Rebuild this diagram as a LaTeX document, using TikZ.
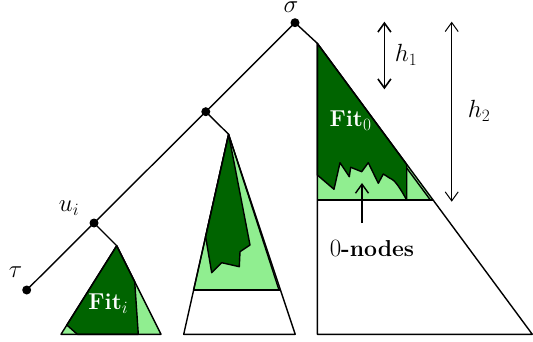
\documentclass[tikz,border=0pt]{standalone}
\usetikzlibrary{arrows.meta}
\definecolor{dg}{RGB}{0,100,0}
\definecolor{lg}{RGB}{144,238,144}
\begin{document}
\begin{tikzpicture}[x=1pt,y=-1pt, line width=1.4pt, line join=round,
  dot/.style={circle,fill=black,inner sep=0pt,minimum size=9pt},
  lbl/.style={font=\fontsize{23}{27}\selectfont, inner sep=0pt},
  fitlbl/.style={text=white, font=\fontsize{23}{27}\selectfont\bfseries, inner sep=0pt},
  dgfill/.style={fill=dg, draw=black},
  lgfill/.style={fill=lg, draw=black},
  harrow/.style={{Straight Barb[length=9pt,width=13pt]}-{Straight Barb[length=9pt,width=13pt]}},
  uparrow/.style={-{Straight Barb[length=9pt,width=13pt]}}]
\useasboundingbox (0,0) rectangle (533,342);

% tree nodes
\node[dot] (s) at (295,22.7) {};
\node[dot] (m) at (205.8,111.7) {};
\node[dot] (u) at (94,223) {};
\node[dot] (t) at (26.7,290) {};
\coordinate (ra) at (317.3,43.3);
\coordinate (ma) at (228.6,134.3);
\coordinate (la) at (116.7,245.7);

% right triangle
\coordinate (rbl) at (317.3,334.3);
\coordinate (rbr) at (532.3,334.3);
\fill[lg] (ra) -- (317.3,200) -- (433.1,200) -- cycle;
\filldraw[dgfill] (ra) -- (406.7,164.5) -- (406.7,200)
  .. controls (400,188) and (395,180) .. (390,178.3)
  -- (383.3,174) -- (378.3,183.3) -- (368.3,162.7) -- (361.7,171.7)
  -- (350.7,167.3) -- (349.3,176.7) -- (340,162.7) -- (334,189.3)
  -- (317.3,175) -- cycle;
\draw (406.7,168) -- (430.4,200);
\draw (317.3,200) -- (433.1,200);
\draw (ra) -- (rbl) -- (rbr) -- cycle;

% middle triangle
\coordinate (mbl) at (183.7,334.3);
\coordinate (mbr) at (295.2,334.3);
\filldraw[lgfill] (ma) -- (193.6,290) -- (279,290) -- cycle;
\filldraw[dgfill] (ma) -- (205.6,236.7) -- (211.7,272.7) -- (221.7,262.7)
  -- (239.3,266.7) -- (240,251.7) -- (250,245) -- cycle;
\draw (193.6,290) -- (280.4,290);
\draw (ma) -- (mbl) -- (mbr) -- cycle;

% left triangle
\coordinate (lbl) at (61,334.3);
\coordinate (lbr) at (161,334.3);
\fill[lg] (la) -- (lbl) -- (lbr) -- cycle;
\filldraw[dgfill] (la) -- (66.8,325) -- (77.3,334.3) -- (138.3,334.3)
  -- (134.7,281.7) -- cycle;
\draw (la) -- (lbl) -- (lbr) -- cycle;

% tree edges
\draw (s.center) -- (ra);
\draw (s.center) -- (m.center);
\draw (m.center) -- (ma);
\draw (m.center) -- (u.center);
\draw (u.center) -- (la);
\draw (u.center) -- (t.center);

% labels
\node[lbl, anchor=north] (sl) at (291,1.5) {$\sigma$};
\node[lbl] (ul) at (69,208) {$u_i$};
\node[lbl] (tl) at (15.5,272.5) {$\tau$};
\node[lbl] (h1l) at (406,55) {$h_1$};
\node[lbl] (h2l) at (479,111) {$h_2$};
\node[fitlbl] (f0) at (350.5,121) {Fit$_0$};
\node[fitlbl] (fi) at (108.3,303.5) {Fit$_i$};
\node[lbl] (zn) at (372,249) {$0$\textbf{-nodes}};

% height arrows
\coordinate (h1t) at (384.4,21.7);
\coordinate (h1b) at (384.4,89.3);
\coordinate (h2t) at (451.7,21.7);
\coordinate (h2b) at (451.7,201.7);
\draw[harrow, line width=1.6pt] (h1t) -- (h1b);
\draw[harrow, line width=1pt] (h2t) -- (h2b);
\coordinate (zt) at (362,183);
\coordinate (zb) at (362,223);
\draw[uparrow, line width=1.4pt] (zb) -- (zt);
\end{tikzpicture}
\end{document}
